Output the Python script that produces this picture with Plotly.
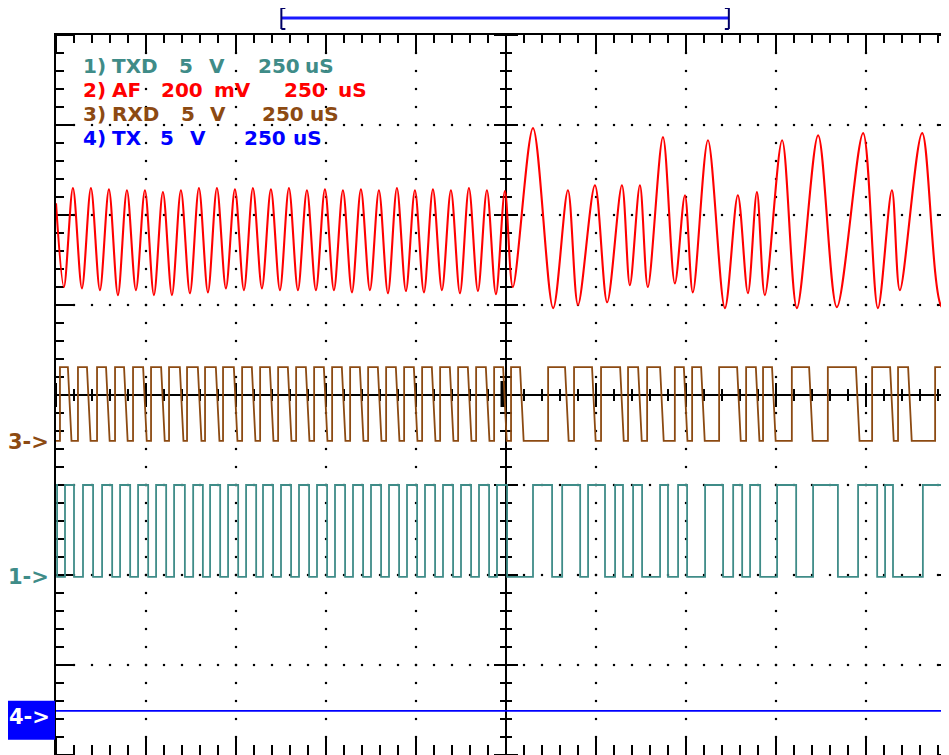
import plotly.graph_objects as go

# ------------------------------------------------------------------ data
# time base: 250 us/div, 10 divisions (0 .. 2500 us); screen shows 0 .. ~2481 us
US_PER_DIV = 250

# Channel 1: TXD (5 V/div) - transition times (us); starts high, alternates
TXD_EDGES_US = [3, 25, 50, 75, 103, 128, 156, 178, 206, 228, 256, 278, 306, 328,
                358, 381, 408, 428, 456, 478, 506, 528, 556, 575, 603, 625, 653,
                675, 703, 725, 753, 775, 803, 825, 853, 875, 903, 925, 953, 975,
                1003, 1025, 1053, 1075, 1103, 1125, 1153, 1175, 1203, 1225, 1253,
                1325, 1378, 1406, 1456, 1478, 1525, 1553, 1575, 1603, 1628, 1678,
                1700, 1728, 1753, 1803, 1853, 1881, 1906, 1928, 1956, 2003, 2056,
                2103, 2172, 2228, 2281, 2303, 2325, 2408]
TXD_HIGH_V = 5.1
TXD_LOW_V = 0.0

# Channel 3: RXD (5 V/div) - starts low
RXD_RISE_US = [11, 61, 114, 164, 214, 264, 314, 364, 414, 464, 517, 567, 617, 667,
               717, 767, 817, 867, 917, 967, 1017, 1067, 1117, 1167, 1217, 1264,
               1367, 1439, 1514, 1589, 1642, 1719, 1767, 1842, 1917, 1964, 2044,
               2144, 2267, 2339, 2442]
RXD_FALL_US = [33, 86, 139, 189, 242, 292, 344, 394, 444, 494, 544, 594, 644, 694,
               744, 794, 844, 894, 944, 994, 1044, 1094, 1144, 1194, 1242, 1289,
               1414, 1489, 1567, 1617, 1678, 1744, 1792, 1892, 1944, 1989, 2092,
               2222, 2317, 2367]
RXD_FALL_TIME_US = 10
RXD_HIGH_V = 4.15
RXD_LOW_V = 0.05

# Channel 2: AF (200 mV/div) - turning points of the audio waveform
AF_T_US = [0, 22, 47, 72, 97, 122, 147, 172, 197, 222, 247, 272, 297, 322, 347,
           372, 397, 422, 447, 472, 497, 522, 547, 572, 597, 622, 647, 672, 697,
           722, 747, 772, 797, 822, 847, 872, 897, 922, 947, 972, 997, 1022, 1047,
           1072, 1097, 1122, 1147, 1172, 1197, 1222, 1247,
           1269, 1325, 1381, 1422, 1450, 1497, 1531, 1572, 1594, 1622, 1644, 1686,
           1719, 1747, 1769, 1811, 1858, 1894, 1922, 1947, 1969, 2017, 2058, 2117,
           2169, 2242, 2283, 2322, 2344, 2406, 2461, 2481]
AF_MV = [82, -104, 116, -107, 116, -111, 113, -122, 111, -111, 111, -122, 107,
         -122, 111, -118, 116, -116, 116, -107, 113, -111, 116, -107, 113, -111,
         116, -111, 111, -111, 113, -111, 111, -116, 113, -111, 111, -118, 116,
         -113, 111, -116, 113, -111, 111, -118, 116, -113, 111, -120, 109,
         -104, 249, -151, 111, -144, 122, -138, 122, -100, 122, -104, 229,
         -96, 100, -116, 222, -151, 100, -118, 107, -122, 222, -151, 233,
         -149, 238, -151, 111, -111, 238, -149, -149]

# Channel 4: TX (5 V/div)
TX_T_US = [0, 2500]
TX_V = [0.05, 0.05]

# channel labels
LABEL_ROWS = [
    ("ch1", [("1)", 81), ("TXD", 110), ("5", 177), ("V", 207), ("250", 256), ("uS", 303)]),
    ("ch2", [("2)", 81), ("AF", 110), ("200", 159), ("mV", 212), ("250", 282), ("uS", 336)]),
    ("ch3", [("3)", 81), ("RXD", 110), ("5", 179), ("V", 208), ("250", 260), ("uS", 308)]),
    ("ch4", [("4)", 81), ("TX", 110), ("5", 158), ("V", 188), ("250", 242), ("uS", 291)]),
]
ZOOM_WINDOW_US = [626, 1869]

# ------------------------------------------------------------------ style / layout
PAGE_W, PAGE_H = 949, 755
BODY_MARGIN = 8               # default page margin around the figure
W, H = PAGE_W - BODY_MARGIN, PAGE_H - BODY_MARGIN
PL, PT = 56, 35               # plot area top-left on the page
L, T = PL - BODY_MARGIN, PT - BODY_MARGIN
DIV = 90                      # pixels per division
XMAX = (PAGE_W - PL) / DIV * US_PER_DIV

TEAL = "#3f8c88"
RED = "#ff0000"
BROWN = "#8c4a12"
BLUE = "#0000ff"

CH = {
    "ch1": dict(color=TEAL, scale=5.0, offset=-2.02, marker="1->"),
    "ch2": dict(color=RED, scale=200.0, offset=1.72, marker=None),
    "ch3": dict(color=BROWN, scale=5.0, offset=-0.52, marker="3->"),
    "ch4": dict(color=BLUE, scale=5.0, offset=-3.52, marker="4->"),
}


def to_div(ch, vals):
    c = CH[ch]
    return [c["offset"] + v / c["scale"] for v in vals]


def dx(px):   # pixel length -> us
    return px * US_PER_DIV / DIV


def dy(px):   # pixel length -> div
    return px / DIV


def paper_x(px):   # page x -> paper fraction
    return (px - PL) / (PAGE_W - PL)


def paper_y(py):   # page y -> paper fraction
    return (PAGE_H - py) / (PAGE_H - PT)


fig = go.Figure()

# ---- grid dots
gx, gy = [], []
for i in range(1, 10):
    if i == 5:
        continue
    for k in range(-19, 20):
        gx.append(i * US_PER_DIV)
        gy.append(k * 0.2)
for j in range(-3, 4):
    if j == 0:
        continue
    for k in range(1, 50):
        gx.append(k * US_PER_DIV / 5)
        gy.append(j)
fig.add_trace(go.Scatter(x=gx, y=gy, mode="markers",
                         marker=dict(symbol="square", size=2.2, color="black"),
                         hoverinfo="skip", showlegend=False))

# ---- ticks and centre lines
tx, ty = [], []


def seg(x0, y0, x1, y1):
    tx.extend([x0, x1, None])
    ty.extend([y0, y1, None])


for k in range(-20, 21):
    y = k * 0.2
    major = (k % 5 == 0)
    seg(0, y, dx(18 if major else 8), y)                       # left border
    seg(2500 - dx(18 if major else 10), y, 2500, y)            # right border
    if k != 0:
        h = 12 if major else 6
        seg(1250 - dx(h), y, 1250 + dx(h), y)                   # centre vertical
for k in range(0, 51):
    x = k * US_PER_DIV / 5
    major = (k % 5 == 0)
    seg(x, 4, x, 4 - dy(18 if major else 8))                    # top border
    seg(x, -4, x, -4 + dy(18 if major else 10))                 # bottom border
    h = 12 if major else 6
    seg(x, -dy(h), x, dy(h))                                    # centre horizontal
seg(0, 0, 2500, 0)
seg(1250, -4, 1250, 4)
fig.add_trace(go.Scatter(x=tx, y=ty, mode="lines",
                         line=dict(color="black", width=2),
                         hoverinfo="skip", showlegend=False))
# trigger marker at the centre
fig.add_trace(go.Scatter(x=[1250 - dx(2.5), 1250 - dx(2.5)], y=[-dy(12), dy(14)],
                         mode="lines", line=dict(color="black", width=6),
                         hoverinfo="skip", showlegend=False))

# ---- channel 4 : TX
fig.add_trace(go.Scatter(x=TX_T_US, y=to_div("ch4", TX_V), mode="lines",
                         line=dict(color=BLUE, width=1.6),
                         hoverinfo="skip", showlegend=False))

# ---- channel 1 : TXD
state = True
txd_x, txd_v = [0], [TXD_HIGH_V]
for t in TXD_EDGES_US:
    state = not state
    txd_x.append(t)
    txd_v.append(TXD_HIGH_V if state else TXD_LOW_V)
txd_x.append(2500)
txd_v.append(txd_v[-1])
fig.add_trace(go.Scatter(x=txd_x, y=to_div("ch1", txd_v), mode="lines",
                         line=dict(color=TEAL, width=1.8, shape="hv"),
                         hoverinfo="skip", showlegend=False))

# ---- channel 3 : RXD
events = sorted([(t, 1) for t in RXD_RISE_US] + [(t, 0) for t in RXD_FALL_US])
rx_x, rx_v = [0], [RXD_LOW_V]
for t, up in events:
    if up:
        rx_x += [t, t]
        rx_v += [RXD_LOW_V, RXD_HIGH_V]
    else:
        rx_x += [t, t + RXD_FALL_TIME_US]
        rx_v += [RXD_HIGH_V, RXD_LOW_V]
rx_x.append(2500)
rx_v.append(rx_v[-1])
fig.add_trace(go.Scatter(x=rx_x, y=to_div("ch3", rx_v), mode="lines",
                         line=dict(color=BROWN, width=1.8),
                         hoverinfo="skip", showlegend=False))

# ---- channel 2 : AF
fig.add_trace(go.Scatter(x=AF_T_US, y=to_div("ch2", AF_MV), mode="lines",
                         line=dict(color=RED, width=2.1, shape="spline", smoothing=0.9),
                         hoverinfo="skip", showlegend=False))

# ---- labels
ann = []
LABEL_FONT = "DejaVu Sans"
FONT_SIZE = 20
row_y = [66, 90, 114, 138]
for (ch, tokens), py in zip(LABEL_ROWS, row_y):
    for text, px in tokens:
        ann.append(dict(x=paper_x(px), y=paper_y(py), xref="paper", yref="paper",
                        text="<b>%s</b>" % text, showarrow=False,
                        xanchor="left", yanchor="middle",
                        font=dict(family=LABEL_FONT, size=FONT_SIZE, color=CH[ch]["color"])))

# channel ground markers
shapes = []
for ch in ("ch3", "ch1"):
    ann.append(dict(x=paper_x(51), y=CH[ch]["offset"], xref="paper", yref="y",
                    text="<b>%s</b>" % CH[ch]["marker"], showarrow=False,
                    xanchor="right", yanchor="middle",
                    font=dict(family=LABEL_FONT, size=21, color=CH[ch]["color"])))
off4 = CH["ch4"]["offset"]
shapes.append(dict(type="rect", xref="paper", yref="y",
                   x0=paper_x(7), x1=paper_x(55),
                   y0=off4 - dy(28), y1=off4 + dy(11),
                   fillcolor=BLUE, line=dict(width=0), layer="above"))
ann.append(dict(x=paper_x(52), y=off4 - dy(5), xref="paper", yref="y",
                text="<b>4-></b>", showarrow=False, xanchor="right", yanchor="middle",
                font=dict(family=LABEL_FONT, size=21, color="white")))

# zoom window bracket above the screen
yb = paper_y(18)
yt = paper_y(8)
ybt = paper_y(29)
x0, x1 = ZOOM_WINDOW_US
shapes.append(dict(type="line", xref="x", yref="paper", x0=x0, x1=x1, y0=yb, y1=yb,
                   line=dict(color="#1a1aff", width=3)))
for xe, sgn in ((x0, 1), (x1, -1)):
    shapes.append(dict(type="line", xref="x", yref="paper", x0=xe, x1=xe, y0=ybt, y1=yt,
                       line=dict(color="#000066", width=2)))
    shapes.append(dict(type="line", xref="x", yref="paper", x0=xe, x1=xe + sgn * dx(4),
                       y0=yt, y1=yt, line=dict(color="#000066", width=2)))
    shapes.append(dict(type="line", xref="x", yref="paper", x0=xe, x1=xe + sgn * dx(4),
                       y0=ybt, y1=ybt, line=dict(color="#000066", width=2)))

fig.update_layout(
    width=W, height=H,
    margin=dict(l=L, r=0, t=T, b=0, pad=0),
    paper_bgcolor="white", plot_bgcolor="white",
    showlegend=False, hovermode=False,
    annotations=ann, shapes=shapes,
    xaxis=dict(range=[0, XMAX], side="top", showline=True, linecolor="black",
               linewidth=2, showgrid=False, zeroline=False, showticklabels=False,
               ticks="", fixedrange=True),
    yaxis=dict(range=[-4, 4], showline=True, linecolor="black", linewidth=2,
               showgrid=False, zeroline=False, showticklabels=False, ticks="",
               fixedrange=True),
)

fig.write_html("out.html")
